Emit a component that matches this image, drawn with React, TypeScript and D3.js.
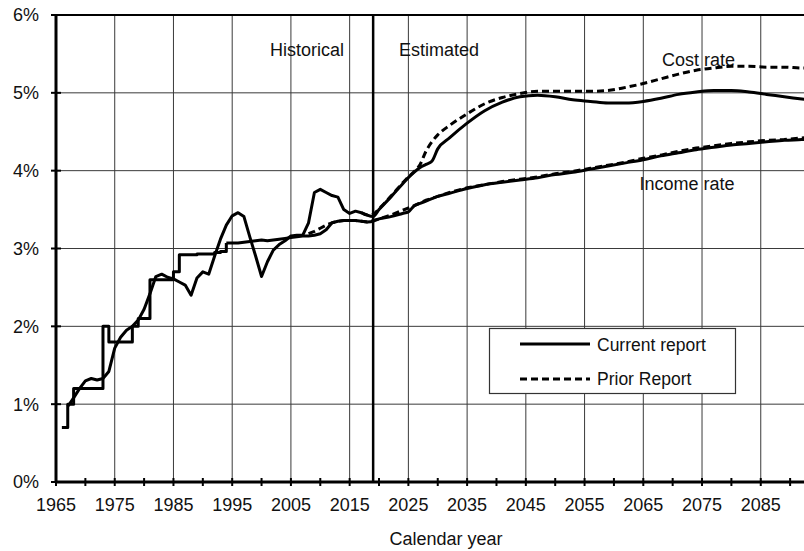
import React from 'react';
import * as d3 from 'd3';

// tax-rate steps (historical income), one value per year, last entry closes the step
const taxYears = [1966, 1967, 1968, 1969, 1970, 1971, 1972, 1973, 1974, 1975, 1976, 1977, 1978, 1979, 1980,
  1981, 1982, 1983, 1984, 1985, 1986, 1987, 1988, 1989, 1990, 1991, 1992, 1993, 1994];
const taxRate = [0.7, 1.0, 1.2, 1.2, 1.2, 1.2, 1.2, 2.0, 1.8, 1.8, 1.8, 1.8, 2.0, 2.1, 2.1,
  2.6, 2.6, 2.6, 2.6, 2.7, 2.92, 2.92, 2.92, 2.93, 2.93, 2.93, 2.95, 2.96, 3.07];

// historical income rate 1994-2018
const incomeHistYears = [1994, 1995, 1996, 1997, 1998, 1999, 2000, 2001, 2002, 2003, 2004, 2005, 2006,
  2007, 2008, 2009, 2010, 2011, 2012, 2013, 2014, 2015, 2016, 2017, 2018];
const incomeHist = [3.07, 3.07, 3.07, 3.08, 3.09, 3.10, 3.11, 3.10, 3.11, 3.12, 3.13, 3.14, 3.15,
  3.16, 3.16, 3.17, 3.19, 3.24, 3.33, 3.35, 3.36, 3.36, 3.36, 3.35, 3.34];

// historical cost rate 1967-2018
const costHistYears = [1967, 1968, 1969, 1970, 1971, 1972, 1973, 1974, 1975, 1976, 1977, 1978, 1979,
  1980, 1981, 1982, 1983, 1984, 1985, 1986, 1987, 1988, 1989, 1990, 1991, 1992, 1993, 1994, 1995,
  1996, 1997, 1998, 1999, 2000, 2001, 2002, 2003, 2004, 2005, 2006, 2007, 2008, 2009, 2010, 2011,
  2012, 2013, 2014, 2015, 2016, 2017, 2018];
const costHist = [0.97, 1.08, 1.20, 1.30, 1.33, 1.31, 1.33, 1.42, 1.72, 1.86, 1.95, 2.00, 2.08,
  2.22, 2.42, 2.64, 2.67, 2.63, 2.61, 2.57, 2.53, 2.40, 2.62, 2.70, 2.67, 2.90, 3.12, 3.30, 3.42,
  3.46, 3.41, 3.15, 2.90, 2.64, 2.83, 2.98, 3.05, 3.10, 3.16, 3.17, 3.17, 3.33, 3.72, 3.76, 3.72,
  3.68, 3.66, 3.50, 3.45, 3.48, 3.46, 3.43];

// current report projections
const projYears = [2018, 2019, 2020, 2022, 2024, 2025, 2026, 2027, 2028, 2029, 2030, 2032, 2035, 2038,
  2041, 2044, 2047, 2050, 2053, 2056, 2059, 2062, 2065, 2068, 2071, 2074, 2077, 2080, 2083, 2086,
  2089, 2092, 2094];
const costProj = [3.43, 3.41, 3.50, 3.66, 3.83, 3.91, 3.98, 4.04, 4.08, 4.12, 4.28, 4.42, 4.61, 4.77,
  4.88, 4.95, 4.97, 4.95, 4.91, 4.89, 4.87, 4.87, 4.89, 4.93, 4.98, 5.01, 5.03, 5.03, 5.01, 4.98,
  4.95, 4.92, 4.90];
const incomeProj = [3.34, 3.35, 3.38, 3.41, 3.45, 3.47, 3.55, 3.58, 3.61, 3.64, 3.67, 3.71, 3.77, 3.82,
  3.85, 3.88, 3.91, 3.95, 3.98, 4.02, 4.06, 4.10, 4.14, 4.19, 4.23, 4.27, 4.30, 4.33, 4.35, 4.37,
  4.39, 4.40, 4.41];

// prior report
const priorCostYears = [2017, 2018, 2019, 2020, 2022, 2024, 2025, 2026, 2027, 2028, 2029, 2030, 2032,
  2035, 2038, 2041, 2044, 2047, 2050, 2053, 2056, 2059, 2062, 2065, 2068, 2071, 2074, 2077, 2080,
  2083, 2086, 2089, 2092, 2094];
const priorCost = [3.46, 3.43, 3.44, 3.51, 3.67, 3.84, 3.92, 3.99, 4.08, 4.25, 4.37, 4.46, 4.58,
  4.73, 4.86, 4.94, 4.99, 5.02, 5.02, 5.02, 5.02, 5.03, 5.07, 5.12, 5.18, 5.24, 5.29, 5.32, 5.34,
  5.34, 5.33, 5.33, 5.32, 5.32];
const priorIncomeYears = [2008, 2009, 2010, 2011, 2012, 2013, 2014, 2015, 2016, 2017, 2018, 2020, 2022,
  2024, 2026, 2028, 2030, 2032, 2035, 2038, 2041, 2044, 2047, 2050, 2053, 2056, 2059, 2062, 2065,
  2068, 2071, 2074, 2077, 2080, 2083, 2086, 2089, 2092, 2094];
const priorIncome = [3.19, 3.22, 3.26, 3.30, 3.33, 3.35, 3.36, 3.36, 3.36, 3.35, 3.34, 3.38, 3.43,
  3.49, 3.55, 3.62, 3.67, 3.72, 3.78, 3.82, 3.86, 3.89, 3.92, 3.96, 3.99, 4.03, 4.07, 4.11, 4.16,
  4.20, 4.25, 4.29, 4.32, 4.35, 4.37, 4.39, 4.40, 4.42, 4.43];

const yTicks = [0, 1, 2, 3, 4, 5, 6];
const xLabels = [1965, 1975, 1985, 1995, 2005, 2015, 2025, 2035, 2045, 2055, 2065, 2075, 2085];
const splitYear = 2019;

const W = 804;
const H = 551;
const FONT = 'Liberation Sans, Arial, sans-serif';

const App = () => {
  const x = d3.scaleLinear().domain([1965, 2095]).range([56, 56 + 130 * 5.873]);
  const y = d3.scaleLinear().domain([0, 6]).range([482, 15]);

  const pts = (ys: number[], vs: number[]) => ys.map((yr, i) => [yr, vs[i]] as [number, number]);

  const lin = d3.line<[number, number]>().x(d => x(d[0])).y(d => y(d[1]));
  const step = d3.line<[number, number]>().x(d => x(d[0])).y(d => y(d[1])).curve(d3.curveStepAfter);
  const smooth = d3.line<[number, number]>().x(d => x(d[0])).y(d => y(d[1])).curve(d3.curveMonotoneX);

  const minorTicks = d3.range(1965, 2095, 5);
  const vGrid = xLabels.slice(1);

  const lineStyle = { fill: 'none', stroke: '#000', strokeWidth: 3, strokeLinejoin: 'round' as const };
  const dashed = { ...lineStyle, strokeDasharray: '7,4', strokeLinejoin: 'miter' as const };

  return (
    <svg width={W} height={H} style={{ position: 'absolute', left: 0, top: 0, background: '#fff' }}
      fontFamily={FONT}>
      <defs>
        <clipPath id="plot">
          <rect x={56} y={0} width={W - 56} height={483} />
        </clipPath>
      </defs>

      {/* grid */}
      {vGrid.map(v => (
        <line key={'vg' + v} x1={x(v)} x2={x(v)} y1={y(0)} y2={y(6)} stroke="#3a3a3a" strokeWidth={1} />
      ))}
      {yTicks.slice(1, 6).map(v => (
        <line key={'hg' + v} x1={x(1965)} x2={W} y1={y(v)} y2={y(v)} stroke="#3a3a3a" strokeWidth={1} />
      ))}
      <line x1={x(1965)} x2={W} y1={y(6)} y2={y(6)} stroke="#000" strokeWidth={2} />

      {/* historical / estimated split */}
      <line x1={x(splitYear)} x2={x(splitYear)} y1={y(0)} y2={y(6)} stroke="#000" strokeWidth={2.5} />

      <text x={307} y={56} fontSize={18} textAnchor="middle" fill="#111">Historical</text>
      <text x={439} y={56} fontSize={18} textAnchor="middle" fill="#111">Estimated</text>
      <text x={735} y={66} fontSize={18} textAnchor="end" fill="#111">Cost rate</text>
      <text x={687} y={190} fontSize={18} textAnchor="middle" fill="#111">Income rate</text>

      {/* series */}
      <g clipPath="url(#plot)">
        <path d={smooth(pts(priorCostYears, priorCost)) || ''} style={dashed} />
        <path d={lin(pts(priorIncomeYears, priorIncome)) || ''} style={dashed} />
        <path d={step(pts(taxYears, taxRate)) || ''} style={lineStyle} />
        <path d={lin(pts(incomeHistYears, incomeHist)) || ''} style={lineStyle} />
        <path d={lin(pts(costHistYears, costHist)) || ''} style={lineStyle} />
        <path d={smooth(pts(projYears, costProj)) || ''} style={lineStyle} />
        <path d={smooth(pts(projYears, incomeProj)) || ''} style={lineStyle} />
      </g>

      {/* axes */}
      <line x1={x(1965)} x2={x(1965)} y1={y(0)} y2={y(6)} stroke="#000" strokeWidth={3} />
      <line x1={x(1965)} x2={W} y1={y(0)} y2={y(0)} stroke="#000" strokeWidth={3} />
      {yTicks.map(v => (
        <g key={'yt' + v}>
          <line x1={51} x2={61} y1={y(v)} y2={y(v)} stroke="#000" strokeWidth={2} />
          <text x={39} y={y(v)} dy="0.36em" fontSize={18} textAnchor="end" fill="#111">{v + '%'}</text>
        </g>
      ))}
      {minorTicks.map(v => (
        <line key={'xt' + v} x1={x(v)} x2={x(v)} y1={y(0) - 4} y2={y(0) + 4} stroke="#000" strokeWidth={2} />
      ))}
      {xLabels.map(v => (
        <text key={'xl' + v} x={x(v)} y={511} fontSize={18} textAnchor="middle" fill="#111">{v}</text>
      ))}
      <text x={446} y={545} fontSize={18} textAnchor="middle" fill="#111">Calendar year</text>

      {/* legend */}
      <rect x={489.5} y={328.5} width={246} height={65} fill="#fff" stroke="#333" strokeWidth={1.2} />
      <line x1={520} x2={590} y1={344} y2={344} style={lineStyle} />
      <line x1={520} x2={590} y1={379} y2={379} style={dashed} />
      <text x={597} y={351} fontSize={17.5} fill="#111">Current report</text>
      <text x={597} y={385} fontSize={17.5} fill="#111">Prior Report</text>
    </svg>
  );
};

export default App;
